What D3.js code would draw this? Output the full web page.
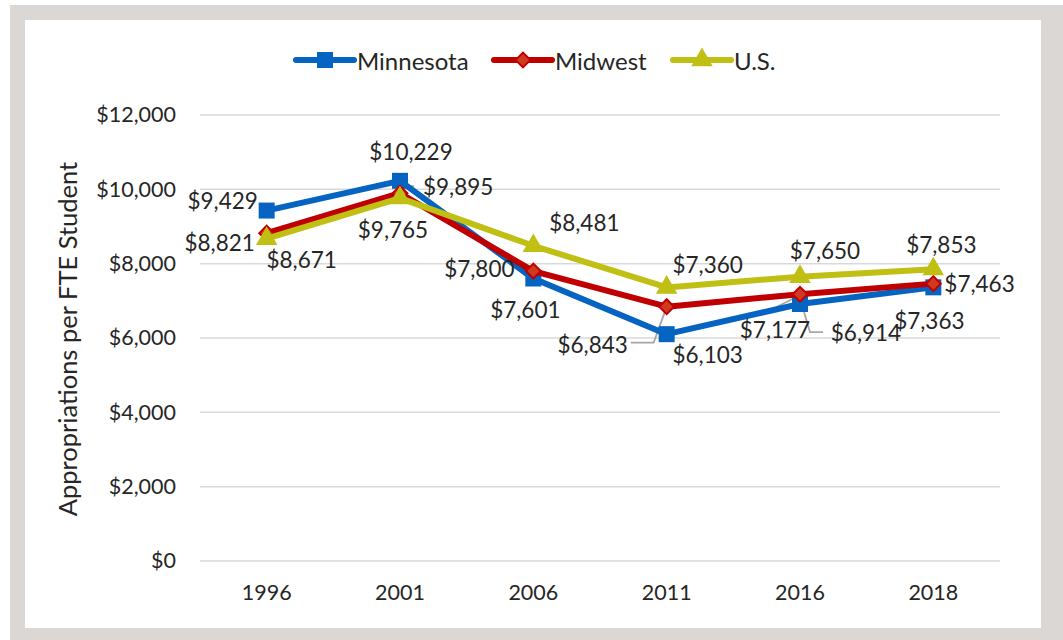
<!DOCTYPE html>
<html>
<head>
<meta charset="utf-8">
<script src="https://cdn.jsdelivr.net/npm/d3@7/dist/d3.min.js"></script>
<style>
  html, body { margin: 0; padding: 0; background: #fff; }
  svg { display: block; }
  text { font-family: Lato, "Open Sans", sans-serif; fill: #262626; }
</style>
</head>
<body>
<svg id="chart" width="1063" height="640"></svg>
<script>
// Appropriations per FTE student, by year
const years = ["1996", "2001", "2006", "2011", "2016", "2018"];
const minnesota = [9429, 10229, 7601, 6103, 6914, 7363];
const midwest = [8821, 9895, 7800, 6843, 7177, 7463];
const us = [8671, 9765, 8481, 7360, 7650, 7853];
const yTicks = [0, 2000, 4000, 6000, 8000, 10000, 12000];
const seriesNames = ["Minnesota", "Midwest", "U.S."];

// label placement offsets (dx, dy from the point, text anchor)
const labelPlacement = {
  "Minnesota": [[-44, -10, "middle"], [11, -29, "middle"], [-8, 31, "middle"], [41, 20, "middle"], [66, 28, "middle"], [-4, 33, "middle"]],
  "Midwest":   [[-47, 9, "middle"], [23, -7, "start"], [-54, -3, "middle"], [-74, 38, "middle"], [-25, 35, "middle"], [11, 0, "start"]],
  "U.S.":      [[35, 21, "middle"], [-7, 31, "middle"], [51, -23, "middle"], [41, -23, "middle"], [25, -26, "middle"], [8, -25, "middle"]]
};

const svg = d3.select("#chart");

// frame
svg.append("rect").attr("x", 10).attr("y", 5).attr("width", 1053).attr("height", 635).attr("fill", "#dbd7d4");
svg.append("rect").attr("x", 25).attr("y", 20).attr("width", 1016).attr("height", 608).attr("fill", "#ffffff");

const x = d3.scaleBand().domain(years).range([200, 1000]);
const y = d3.scaleLinear().domain([0, 12000]).range([561, 115]);
const cx = d => x(d) + x.bandwidth() / 2;

// gridlines
svg.append("g").selectAll("line").data(yTicks).join("line")
  .attr("x1", 200).attr("x2", 1000)
  .attr("y1", d => y(d)).attr("y2", d => y(d))
  .attr("stroke", "#d9d9d9").attr("stroke-width", 1.5);

// y axis labels
const fmt = d => "$" + d3.format(",")(d);
const yAxis = svg.append("g").attr("transform", "translate(176,0)")
  .call(d3.axisLeft(y).tickValues(yTicks).tickFormat(fmt).tickSize(0).tickPadding(0));
yAxis.select(".domain").remove();
yAxis.selectAll("text").attr("font-size", 21.5).attr("fill", "#262626")
  .attr("font-family", "Lato, 'Open Sans', sans-serif");

// x axis labels
const xAxis = svg.append("g").attr("transform", "translate(0,585)")
  .call(d3.axisBottom(x).tickSize(0).tickPadding(0));
xAxis.select(".domain").remove();
xAxis.selectAll("text").attr("font-size", 21.5).attr("fill", "#262626")
  .attr("font-family", "Lato, 'Open Sans', sans-serif");

// axis title
svg.append("text")
  .attr("transform", "translate(77,339) rotate(-90)")
  .attr("text-anchor", "middle")
  .attr("font-size", 25.5)
  .text("Appropriations per FTE Student");

const series = [
  { name: "Minnesota", values: minnesota, color: "#0563c1", fill: "#0563c1", marker: d3.symbolSquare, size: 256, rot: 0 },
  { name: "Midwest", values: midwest, color: "#c00000", fill: "#cf3a20", marker: d3.symbolSquare, size: 110, rot: 45 },
  { name: "U.S.", values: us, color: "#bfbf14", fill: "#bfbf14", marker: d3.symbolTriangle, size: 200, rot: 0 }
];

const line = d3.line().x((d, i) => cx(years[i])).y(d => y(d));

// leader lines for displaced labels
const leader = svg.append("g").attr("fill", "none").attr("stroke", "#a6a6a6").attr("stroke-width", 1.8);
leader.append("path").attr("d", d3.line()([[cx("2001") + 2, y(midwest[1]) - 7], [cx("2001") + 14, y(midwest[1]) - 7]]));
leader.append("path").attr("d", d3.line()([[cx("2011") - 1, y(midwest[3]) + 3], [cx("2011") - 13, y(midwest[3]) + 36], [cx("2011") - 36, y(midwest[3]) + 36]]));
leader.append("path").attr("d", d3.line()([[cx("2016"), y(midwest[4]) + 1], [cx("2016") - 24, y(midwest[4]) + 13]]));
leader.append("path").attr("d", d3.line()([[cx("2016") + 2, y(minnesota[4]) + 1], [cx("2016") + 10, y(minnesota[4]) + 28], [cx("2016") + 23, y(minnesota[4]) + 28]]));

// series lines and markers
series.forEach(s => {
  svg.append("path").datum(s.values)
    .attr("d", line)
    .attr("fill", "none").attr("stroke", s.color).attr("stroke-width", 6)
    .attr("stroke-linejoin", "round").attr("stroke-linecap", "round");
  svg.append("g").selectAll("path").data(s.values).join("path")
    .attr("transform", (d, i) => `translate(${cx(years[i])},${y(d)}) rotate(${s.rot})`)
    .attr("d", d3.symbol().type(s.marker).size(s.size))
    .attr("fill", s.fill).attr("stroke", s.color).attr("stroke-width", s.name === "Midwest" ? 2 : 0);
});

// data labels
series.forEach(s => {
  const place = labelPlacement[s.name];
  svg.append("g").selectAll("text").data(s.values).join("text")
    .attr("x", (d, i) => cx(years[i]) + place[i][0])
    .attr("y", (d, i) => y(d) + place[i][1])
    .attr("text-anchor", (d, i) => place[i][2])
    .attr("dominant-baseline", "central")
    .attr("font-size", 22.5)
    .text(d => fmt(d));
});

// legend
const legendX = [296, 494, 673];
const legend = svg.append("g");
series.forEach((s, i) => {
  const g = legend.append("g").attr("transform", `translate(${legendX[i]},60)`);
  g.append("line").attr("x1", 0).attr("x2", 58).attr("y1", 0).attr("y2", 0)
    .attr("stroke", s.color).attr("stroke-width", 6).attr("stroke-linecap", "round");
  g.append("path").attr("transform", `translate(29,0) rotate(${s.rot})`)
    .attr("d", d3.symbol().type(s.marker).size(s.size))
    .attr("fill", s.fill).attr("stroke", s.color).attr("stroke-width", s.name === "Midwest" ? 2 : 0);
  g.append("text").attr("x", 61).attr("y", 0).attr("dominant-baseline", "central")
    .attr("font-size", 24).text(s.name);
});
</script>
</body>
</html>
